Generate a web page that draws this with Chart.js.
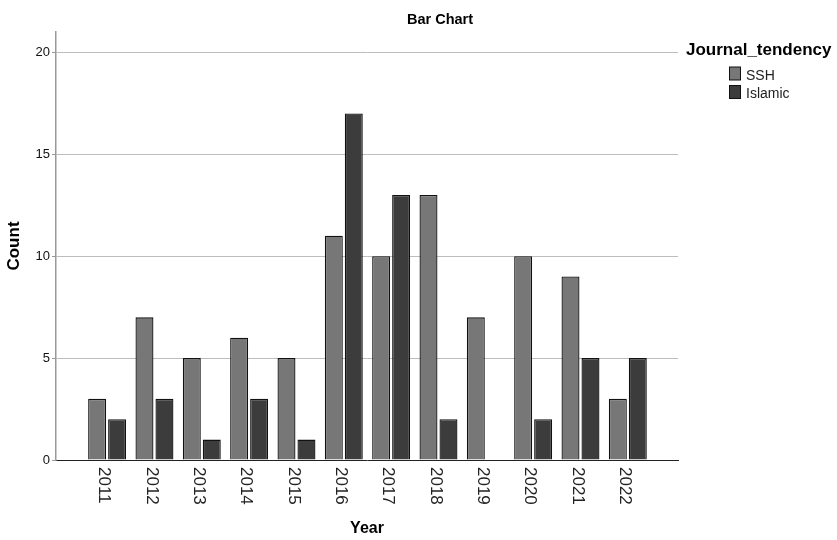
<!DOCTYPE html>
<html>
<head>
<meta charset="utf-8">
<script src="https://cdn.jsdelivr.net/npm/chart.js@4"></script>
<style>
  html, body { margin: 0; padding: 0; background: #fff; }
  #wrap { width: 837px; height: 540px; }
</style>
</head>
<body>
<div id="wrap"><canvas id="myChart"></canvas></div>
<script>
const years = ['2011', '2012', '2013', '2014', '2015', '2016', '2017', '2018', '2019', '2020', '2021', '2022'];
const ssh = [3, 7, 5, 6, 5, 11, 10, 13, 7, 10, 9, 3];
const islamic = [2, 3, 1, 3, 1, 17, 13, 2, 0, 2, 5, 5];
const yTicks = [0, 5, 10, 15, 20];

const FONT = '"Liberation Sans", Arial, sans-serif';
Chart.defaults.font.family = FONT;

// title, downward year labels and the legend, drawn after the chart
const extras = {
    id: 'extras',
    afterDraw(chart) {
        const ctx = chart.ctx;
        const xs = chart.scales.x;
        const area = chart.chartArea;
        ctx.save();
        ctx.fillStyle = '#000';

        ctx.font = 'bold 14.5px ' + FONT;
        ctx.textAlign = 'center';
        ctx.textBaseline = 'alphabetic';
        ctx.fillText('Bar Chart', 440, 24);

        ctx.font = '17px ' + FONT;
        ctx.fillStyle = '#222';
        ctx.textAlign = 'left';
        ctx.textBaseline = 'middle';
        years.forEach((y, i) => {
            ctx.save();
            ctx.translate(xs.getPixelForValue(i) - 3, area.bottom + 7);
            ctx.rotate(Math.PI / 2);
            ctx.fillText(y, 0, 0);
            ctx.restore();
        });

        ctx.fillStyle = '#000';
        ctx.textBaseline = 'alphabetic';
        ctx.font = 'bold 17px ' + FONT;
        ctx.fillText('Journal_tendency', 686, 55);

        ctx.font = '14px ' + FONT;
        chart.data.datasets.forEach((ds, i) => {
            const top = 67 + i * 18.5;
            ctx.fillStyle = ds.backgroundColor;
            ctx.fillRect(729.5, top, 11, 13);
            ctx.strokeStyle = '#111';
            ctx.lineWidth = 1;
            ctx.strokeRect(729.5, top, 11, 13);
            ctx.fillStyle = '#222';
            ctx.fillText(ds.label, 746, top + 12.5);
        });
        ctx.restore();
    }
};

const ctx1 = document.getElementById('myChart').getContext('2d');
const myChart = new Chart(ctx1, {
    type: 'bar',
    data: {
        datasets: [{
            label: 'SSH',
            data: ssh.map((v, i) => ({ x: i, y: v })),
            backgroundColor: '#777777',
            borderColor: '#111',
            borderWidth: 1.3
        }, {
            label: 'Islamic',
            data: islamic.map((v, i) => ({ x: i, y: v })),
            backgroundColor: '#3c3c3c',
            borderColor: '#111',
            borderWidth: c => (c.raw && c.raw.y === 0 ? 0 : 1.3)
        }]
    },
    options: {
        responsive: true,
        maintainAspectRatio: false,
        animation: false,
        categoryPercentage: 0.844,
        barPercentage: 0.9,
        layout: { padding: { top: 32, right: 159, left: 0, bottom: 0 } },
        plugins: {
            legend: { display: false },
            title: { display: false },
            tooltip: { enabled: false }
        },
        scales: {
            x: {
                type: 'linear',
                offset: false,
                min: -1.08,
                max: 12.06,
                afterFit(s) { s.height = 80; },
                afterBuildTicks(s) { s.ticks = years.map((_, i) => ({ value: i })); },
                ticks: { display: false },
                grid: { display: false, offset: false },
                border: { color: '#222', width: 1 },
                title: {
                    display: true,
                    text: 'Year',
                    color: '#000',
                    font: { size: 16, weight: 'bold' },
                    padding: { top: 0, bottom: 2 }
                }
            },
            y: {
                min: 0,
                max: 21,
                afterFit(s) { s.width = 56; },
                afterBuildTicks(s) { s.ticks = yTicks.map(v => ({ value: v })); },
                ticks: { color: '#111', font: { size: 13 }, padding: 2 },
                grid: {
                    color: c => (c.tick && c.tick.value === 0 ? 'rgba(0,0,0,0)' : '#bdbdbd'),
                    tickColor: '#999',
                    tickLength: 4,
                    lineWidth: 1
                },
                border: { color: '#999', width: 1.5 },
                title: {
                    display: true,
                    text: 'Count',
                    color: '#000',
                    font: { size: 17, weight: 'bold' },
                    padding: { top: 4, bottom: 0 }
                }
            }
        }
    },
    plugins: [extras]
});
</script>
</body>
</html>
